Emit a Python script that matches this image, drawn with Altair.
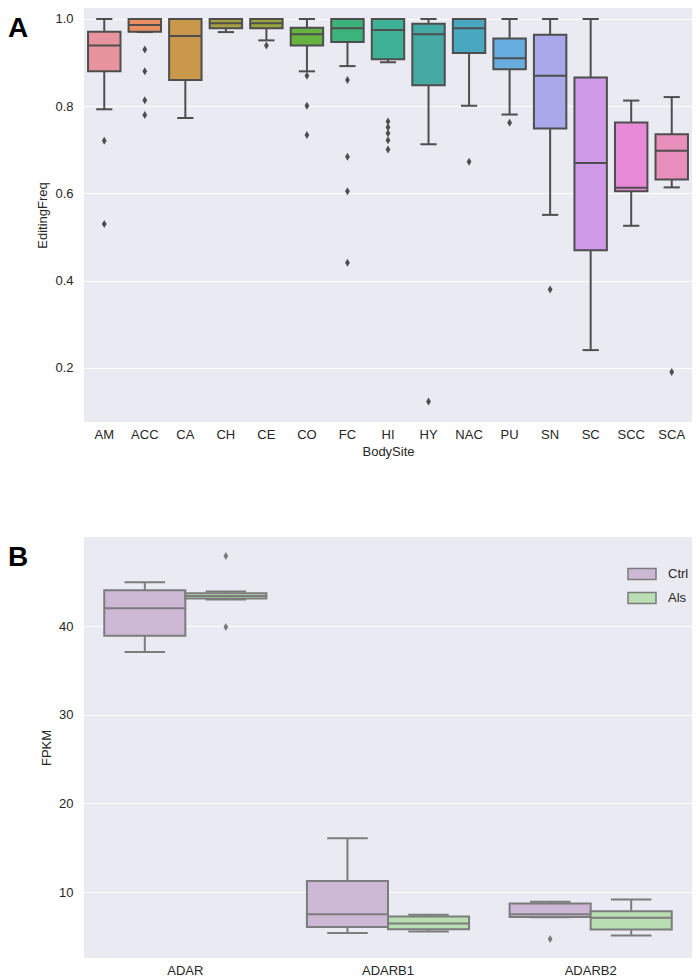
import altair as alt
import pandas as pd

# ---------------- Panel A data ----------------
sites = ["AM", "ACC", "CA", "CH", "CE", "CO", "FC", "HI", "HY", "NAC", "PU", "SN", "SC", "SCC", "SCA"]
site_colors = ["#e8949f", "#ea9060", "#c9984a", "#a8a040", "#9aa63c", "#67b340", "#3db37c", "#3fb196",
               "#45a9a4", "#4aa7c0", "#68ade0", "#a9a8ea", "#cf9ae8", "#e88ad8", "#e890bb"]
whislo = [0.793, 0.970, 0.773, 0.970, 0.951, 0.880, 0.892, 0.901, 0.713, 0.801, 0.781, 0.551, 0.241, 0.526, 0.614]
q1 = [0.880, 0.971, 0.860, 0.979, 0.979, 0.939, 0.947, 0.908, 0.848, 0.922, 0.885, 0.749, 0.470, 0.605, 0.632]
med = [0.939, 0.986, 0.961, 0.990, 0.990, 0.965, 0.979, 0.975, 0.965, 0.979, 0.910, 0.870, 0.670, 0.613, 0.698]
q3 = [0.971, 1.000, 1.000, 1.000, 1.000, 0.980, 1.000, 1.000, 0.989, 1.000, 0.955, 0.964, 0.866, 0.763, 0.736]
whishi = [1.000, 1.000, 1.000, 1.000, 1.000, 1.000, 1.000, 1.000, 1.000, 1.000, 1.000, 1.000, 1.000, 0.813, 0.821]

out_site = ["AM", "AM", "ACC", "ACC", "ACC", "ACC", "CE", "CO", "CO", "CO", "FC", "FC", "FC", "FC",
            "HI", "HI", "HI", "HI", "HI", "HY", "NAC", "PU", "SN", "SCA"]
out_val = [0.721, 0.530, 0.930, 0.880, 0.814, 0.780, 0.939, 0.870, 0.801, 0.734, 0.860, 0.684, 0.605, 0.441,
           0.765, 0.752, 0.738, 0.722, 0.701, 0.123, 0.673, 0.762, 0.380, 0.191]

# ---------------- Panel B data ----------------
genes = ["ADAR", "ADAR", "ADARB1", "ADARB1", "ADARB2", "ADARB2"]
groups = ["Ctrl", "Als", "Ctrl", "Als", "Ctrl", "Als"]
b_whislo = [37.06, 43.00, 5.37, 5.55, 7.15, 5.10]
b_q1 = [38.90, 43.10, 6.05, 5.80, 7.18, 5.78]
b_med = [42.00, 43.40, 7.48, 6.45, 7.48, 7.10]
b_q3 = [44.03, 43.70, 11.24, 7.25, 8.72, 7.82]
b_whishi = [44.94, 43.90, 16.07, 7.45, 8.90, 9.17]
b_out_gene = ["ADAR", "ADAR", "ADARB2"]
b_out_group = ["Als", "Als", "Ctrl"]
b_out_val = [47.9, 39.9, 4.69]
group_order = ["Ctrl", "Als"]
group_colors = ["#cdb8d6", "#b9deb2"]

DIAMOND = "M0,-1L0.6,0L0,1L-0.6,0Z"
FONT = "Liberation Sans"
TXT = "#262626"

# ---------------- Panel A chart ----------------
W = 608
HA = 414
HB = 421
stepA = W / 15.0
boxA = stepA * 0.8

dfA = pd.DataFrame({"site": sites, "lo": whislo, "q1": q1, "med": med, "q3": q3, "hi": whishi})
dfA_out = pd.DataFrame({"site": out_site, "v": out_val})

xA = alt.X("site:N", sort=sites, title="BodySite",
           scale=alt.Scale(paddingInner=0.2, paddingOuter=0.1),
           axis=alt.Axis(labelAngle=0, labelPadding=6, titlePadding=4))
yscaleA = alt.Scale(domain=[0.0762, 1.0252], zero=False, nice=False)
yaxA = alt.Axis(values=[0.2, 0.4, 0.6, 0.8, 1.0], format=".1f", labelPadding=11, titlePadding=5)
grayA = "#4e4e4e"

ruleA = alt.Chart(dfA).mark_rule(color=grayA, strokeWidth=2).encode(
    x=xA, y=alt.Y("lo:Q", scale=yscaleA, axis=yaxA, title="EditingFreq"), y2="hi:Q")
boxA_ = alt.Chart(dfA).mark_bar(stroke=grayA, strokeWidth=2, width={"band": 1}).encode(
    x=xA, y="q1:Q", y2="q3:Q",
    fill=alt.Fill("site:N", sort=sites, scale=alt.Scale(domain=sites, range=site_colors), legend=None))
medA = alt.Chart(dfA).mark_tick(color=grayA, thickness=2, size=boxA, opacity=1).encode(x=xA, y="med:Q")
capLoA = alt.Chart(dfA).mark_tick(color=grayA, thickness=2, size=boxA / 2, opacity=1).encode(x=xA, y="lo:Q")
capHiA = alt.Chart(dfA).mark_tick(color=grayA, thickness=2, size=boxA / 2, opacity=1).encode(x=xA, y="hi:Q")
outA = alt.Chart(dfA_out).mark_point(shape=DIAMOND, filled=True, color=grayA, size=64, opacity=1).encode(
    x=xA, y="v:Q")
labA = alt.Chart(pd.DataFrame({"t": ["A"]})).mark_text(
    text="A", align="left", baseline="alphabetic", fontSize=28, fontWeight="bold", font=FONT, color="black"
).encode(x=alt.value(-76), y=alt.value(29))

chartA = alt.layer(ruleA, boxA_, medA, capLoA, capHiA, outA, labA).properties(width=W, height=HA)

# ---------------- Panel B chart ----------------
stepB = W / 3.0
boxB = stepB * 0.8 / 2

dfB = pd.DataFrame({"gene": genes, "group": groups, "lo": b_whislo, "q1": b_q1, "med": b_med,
                    "q3": b_q3, "hi": b_whishi})
dfB_out = pd.DataFrame({"gene": b_out_gene, "group": b_out_group, "v": b_out_val})

xB = alt.X("gene:N", sort=["ADAR", "ADARB1", "ADARB2"], title=None,
           scale=alt.Scale(paddingInner=0.2, paddingOuter=0.1),
           axis=alt.Axis(labelAngle=0, labelPadding=6))
xoB = alt.XOffset("group:N", sort=group_order, scale=alt.Scale(domain=group_order, paddingInner=0, paddingOuter=0))
yscaleB = alt.Scale(domain=[2.56, 50.04], zero=False, nice=False)
yaxB = alt.Axis(values=[10, 20, 30, 40], labelPadding=11, titlePadding=5)
grayB = "#7c7c7c"

ruleB = alt.Chart(dfB).mark_rule(color=grayB, strokeWidth=2).encode(
    x=xB, xOffset=xoB, y=alt.Y("lo:Q", scale=yscaleB, axis=yaxB, title="FPKM"), y2="hi:Q")
boxB_ = alt.Chart(dfB).mark_bar(stroke=grayB, strokeWidth=2).encode(
    x=xB, xOffset=xoB, y="q1:Q", y2="q3:Q",
    color=alt.Color("group:N", sort=group_order,
                    scale=alt.Scale(domain=group_order, range=group_colors),
                    legend=alt.Legend(title=None, orient="none", legendX=550, legendY=29,
                                      symbolType="M-2,-0.79H2V0.79H-2Z", symbolSize=196,
                                      symbolStrokeColor=grayB, symbolStrokeWidth=1.5,
                                      symbolOpacity=1,
                                      labelOffset=18, rowPadding=6, labelFontSize=13,
                                      labelFont=FONT, labelColor=TXT)))
medB = alt.Chart(dfB).mark_tick(color=grayB, thickness=2, size=boxB, opacity=1).encode(
    x=xB, xOffset=xoB, y="med:Q")
capLoB = alt.Chart(dfB).mark_tick(color=grayB, thickness=2, size=boxB / 2, opacity=1).encode(
    x=xB, xOffset=xoB, y="lo:Q")
capHiB = alt.Chart(dfB).mark_tick(color=grayB, thickness=2, size=boxB / 2, opacity=1).encode(
    x=xB, xOffset=xoB, y="hi:Q")
outB = alt.Chart(dfB_out).mark_point(shape=DIAMOND, filled=True, color=grayB, size=64, opacity=1).encode(
    x=xB, xOffset=xoB, y="v:Q")
labB = alt.Chart(pd.DataFrame({"t": ["B"]})).mark_text(
    text="B", align="left", baseline="alphabetic", fontSize=28, fontWeight="bold", font=FONT, color="black"
).encode(x=alt.value(-76), y=alt.value(29))

chartB = alt.layer(ruleB, boxB_, medB, capLoB, capHiB, outB, labB).properties(width=W, height=HB)

chart = alt.vconcat(chartA, chartB, spacing=79, padding=0).resolve_scale(
    color="independent", fill="independent"
).configure_view(
    fill="#eaeaf2", stroke=None
).configure_axis(
    grid=True, gridColor="white", gridWidth=1.2, domain=False, ticks=False,
    labelFont=FONT, labelFontSize=13, labelColor=TXT,
    titleFont=FONT, titleFontSize=13, titleFontWeight="normal", titleColor=TXT
).configure_axisX(grid=False)

chart.save("out.html", embed_options={"renderer": "svg", "actions": False})
